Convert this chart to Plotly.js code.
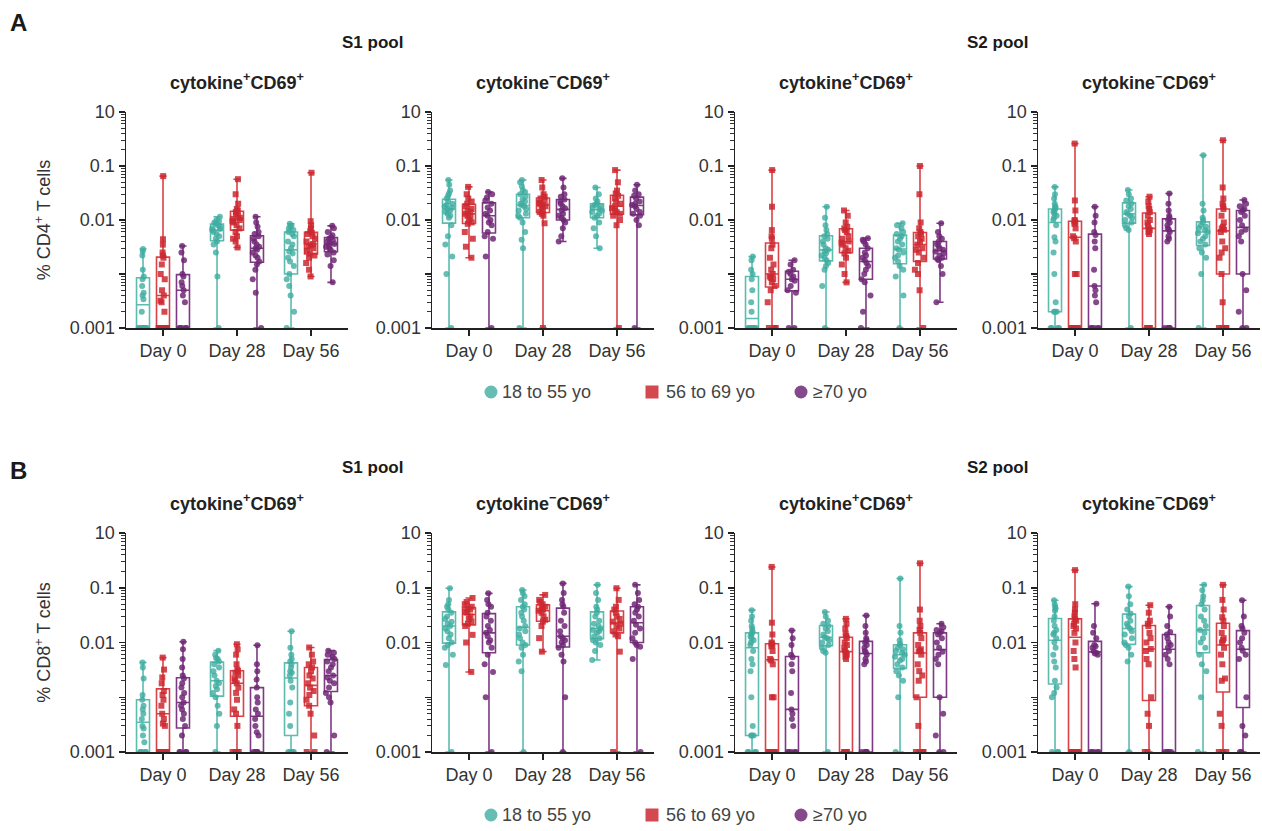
<!DOCTYPE html>
<html>
<head>
<meta charset="utf-8">
<script src="https://cdn.plot.ly/plotly-3.0.1.min.js"></script>
<style>
  html, body { margin: 0; padding: 0; background: #ffffff; }
  #chart { width: 1262px; height: 831px; }
</style>
</head>
<body>
<div id="chart"></div>
<script>
// ---- categories and axis labels ----
const DAYS = ["Day 0", "Day 28", "Day 56"];
const AGE_GROUPS = ["18 to 55 yo", "56 to 69 yo", "\u226570 yo"];
const Y_TICK_VALS = [1e-4, 1e-3, 1e-2, 1e-1, 1];
const Y_TICK_TEXT = ["0.001", "", "0.01", "0.1", "10"];

// ---- % CD4+ T cells, S1 pool, cytokine+CD69+ (Day 0, Day 28, Day 56) ----
const cd4S1Pos_18to55 = [
  [0.0029, 0.0026, 0.0022, 0.0012, 0.0009, 0.0008, 0.0006, 0.00045, 0.0004, 0.00034, 0.0002, 0.0001, 0.0001, 0.0001, 0.0001, 0.0001, 0.0001, 0.0001, 0.0001, 0.0001],
  [0.0115, 0.01, 0.0095, 0.009, 0.0085, 0.008, 0.0075, 0.007, 0.0068, 0.0065, 0.006, 0.0055, 0.005, 0.0045, 0.004, 0.0035, 0.0025, 0.0009, 0.0001],
  [0.0085, 0.008, 0.0075, 0.007, 0.0065, 0.006, 0.0055, 0.005, 0.004, 0.0035, 0.003, 0.0026, 0.0024, 0.002, 0.0017, 0.0014, 0.001, 0.0008, 0.0006, 0.0004, 0.0002, 0.0001]
];
const cd4S1Pos_56to69 = [
  [0.065, 0.0044, 0.0035, 0.0025, 0.0022, 0.002, 0.0015, 0.001, 0.0008, 0.0005, 0.0004, 0.00032, 0.0003, 0.0002, 0.0001, 0.0001, 0.0001, 0.0001, 0.0001, 0.0001, 0.0001],
  [0.057, 0.03, 0.02, 0.016, 0.015, 0.014, 0.013, 0.012, 0.011, 0.0105, 0.01, 0.0095, 0.009, 0.008, 0.007, 0.006, 0.005, 0.0045, 0.004, 0.0031],
  [0.075, 0.0095, 0.008, 0.007, 0.0062, 0.0058, 0.0055, 0.005, 0.0045, 0.004, 0.0036, 0.0034, 0.0032, 0.003, 0.0027, 0.0024, 0.0022, 0.002, 0.0016, 0.0012, 0.0009]
];
const cd4S1Pos_70plus = [
  [0.0033, 0.0025, 0.0018, 0.001, 0.0009, 0.0007, 0.0006, 0.0005, 0.0004, 0.0003, 0.0001, 0.0001, 0.0001, 0.0001, 0.0001],
  [0.0115, 0.009, 0.0075, 0.006, 0.0055, 0.005, 0.0045, 0.004, 0.0035, 0.0032, 0.003, 0.0028, 0.0025, 0.0022, 0.002, 0.0017, 0.0015, 0.0012, 0.0008, 0.00045, 0.0001],
  [0.0078, 0.007, 0.006, 0.0052, 0.0048, 0.0045, 0.0042, 0.004, 0.0038, 0.0036, 0.0034, 0.0032, 0.003, 0.0028, 0.0025, 0.0023, 0.0018, 0.0014, 0.0007]
];

// ---- % CD4+ T cells, S1 pool, cytokine-CD69+ ----
const cd4S1Neg_18to55 = [
  [0.055, 0.045, 0.035, 0.031, 0.028, 0.025, 0.022, 0.02, 0.019, 0.018, 0.017, 0.016, 0.015, 0.014, 0.013, 0.012, 0.011, 0.008, 0.005, 0.0035, 0.0021, 0.001, 0.0001],
  [0.055, 0.05, 0.042, 0.036, 0.033, 0.03, 0.027, 0.024, 0.022, 0.02, 0.019, 0.018, 0.016, 0.015, 0.013, 0.012, 0.011, 0.009, 0.006, 0.0043, 0.003, 0.0001],
  [0.04, 0.03, 0.025, 0.022, 0.02, 0.019, 0.018, 0.017, 0.016, 0.015, 0.014, 0.013, 0.012, 0.011, 0.009, 0.007, 0.005, 0.003]
];
const cd4S1Neg_56to69 = [
  [0.041, 0.03, 0.025, 0.022, 0.02, 0.018, 0.016, 0.015, 0.014, 0.013, 0.012, 0.011, 0.01, 0.009, 0.0085, 0.006, 0.0045, 0.0032, 0.002],
  [0.055, 0.04, 0.03, 0.027, 0.025, 0.023, 0.021, 0.02, 0.019, 0.018, 0.017, 0.015, 0.014, 0.013, 0.012, 0.0087, 0.0001],
  [0.084, 0.05, 0.035, 0.031, 0.028, 0.025, 0.022, 0.02, 0.018, 0.0165, 0.015, 0.014, 0.013, 0.012, 0.01, 0.008, 0.0001]
];
const cd4S1Neg_70plus = [
  [0.033, 0.03, 0.026, 0.023, 0.02, 0.017, 0.015, 0.013, 0.012, 0.01, 0.009, 0.008, 0.006, 0.005, 0.0045, 0.0021, 0.0001],
  [0.059, 0.04, 0.03, 0.027, 0.024, 0.022, 0.02, 0.018, 0.0165, 0.015, 0.013, 0.012, 0.011, 0.01, 0.009, 0.007, 0.005, 0.004],
  [0.045, 0.035, 0.03, 0.028, 0.025, 0.022, 0.02, 0.019, 0.018, 0.016, 0.014, 0.013, 0.012, 0.01, 0.008, 0.0001]
];

// ---- % CD4+ T cells, S2 pool, cytokine+CD69+ ----
const cd4S2Pos_18to55 = [
  [0.0021, 0.0018, 0.0012, 0.001, 0.0008, 0.0005, 0.0003, 0.0002, 0.0001, 0.0001, 0.0001, 0.0001, 0.0001, 0.0001, 0.0001, 0.0001],
  [0.0176, 0.011, 0.008, 0.0065, 0.0055, 0.005, 0.0045, 0.004, 0.0035, 0.003, 0.0028, 0.0026, 0.0024, 0.0022, 0.002, 0.0018, 0.0016, 0.0014, 0.0012, 0.0006, 0.0001],
  [0.0087, 0.008, 0.007, 0.006, 0.0055, 0.005, 0.0045, 0.004, 0.0035, 0.003, 0.0028, 0.0025, 0.0022, 0.002, 0.0017, 0.0014, 0.0012, 0.0009, 0.0004, 0.0001]
];
const cd4S2Pos_56to69 = [
  [0.084, 0.0176, 0.0065, 0.005, 0.0045, 0.0035, 0.003, 0.002, 0.0015, 0.0012, 0.001, 0.0009, 0.00085, 0.0008, 0.0007, 0.0006, 0.0005, 0.0003, 0.0001, 0.0001, 0.0001],
  [0.015, 0.012, 0.009, 0.0075, 0.007, 0.0065, 0.006, 0.005, 0.0045, 0.004, 0.0038, 0.0035, 0.003, 0.0027, 0.0024, 0.002, 0.0015, 0.001, 0.0007],
  [0.1, 0.03, 0.009, 0.007, 0.006, 0.0055, 0.005, 0.0045, 0.004, 0.0035, 0.003, 0.0028, 0.0025, 0.002, 0.0016, 0.0012, 0.001, 0.0005, 0.0001]
];
const cd4S2Pos_70plus = [
  [0.0018, 0.0015, 0.0012, 0.0011, 0.001, 0.0009, 0.0008, 0.00075, 0.0006, 0.0005, 0.00045, 0.0001, 0.0001],
  [0.0046, 0.0043, 0.004, 0.0035, 0.003, 0.0025, 0.0022, 0.002, 0.0018, 0.0016, 0.0014, 0.0012, 0.001, 0.0008, 0.0007, 0.0004, 0.0002, 0.0001],
  [0.0087, 0.006, 0.005, 0.0045, 0.004, 0.0036, 0.0033, 0.003, 0.0028, 0.0026, 0.0024, 0.0022, 0.002, 0.0019, 0.0018, 0.0014, 0.001, 0.0003]
];

// ---- % CD4+ T cells, S2 pool, cytokine-CD69+ ----
const cd4S2Neg_18to55 = [
  [0.041, 0.03, 0.025, 0.02, 0.018, 0.017, 0.016, 0.015, 0.014, 0.013, 0.012, 0.011, 0.01, 0.008, 0.0048, 0.004, 0.0025, 0.001, 0.0003, 0.0002, 0.0002, 0.0002, 0.0001, 0.0001, 0.0001, 0.0001],
  [0.036, 0.03, 0.025, 0.023, 0.02, 0.018, 0.016, 0.014, 0.013, 0.012, 0.011, 0.01, 0.009, 0.008, 0.007, 0.0065, 0.0001],
  [0.158, 0.02, 0.015, 0.011, 0.01, 0.009, 0.008, 0.0075, 0.007, 0.0065, 0.006, 0.0057, 0.005, 0.0045, 0.004, 0.0035, 0.003, 0.0025, 0.002, 0.001, 0.0001]
];
const cd4S2Neg_56to69 = [
  [0.26, 0.023, 0.015, 0.01, 0.0095, 0.009, 0.0085, 0.007, 0.005, 0.0046, 0.004, 0.001, 0.001, 0.0001, 0.0001, 0.0001, 0.0001, 0.0001],
  [0.027, 0.022, 0.018, 0.016, 0.014, 0.012, 0.01, 0.009, 0.008, 0.007, 0.0065, 0.006, 0.0055, 0.0001, 0.0001, 0.0001, 0.0001, 0.0001, 0.0001],
  [0.3, 0.04, 0.025, 0.02, 0.018, 0.016, 0.012, 0.009, 0.0075, 0.007, 0.0066, 0.006, 0.004, 0.003, 0.0025, 0.002, 0.001, 0.0003, 0.0001, 0.0001, 0.0001, 0.0001]
];
const cd4S2Neg_70plus = [
  [0.0176, 0.012, 0.009, 0.006, 0.0053, 0.004, 0.003, 0.0012, 0.0006, 0.0005, 0.0004, 0.0003, 0.0001, 0.0001, 0.0001, 0.0001, 0.0001],
  [0.031, 0.02, 0.015, 0.012, 0.011, 0.01, 0.009, 0.008, 0.007, 0.0066, 0.006, 0.005, 0.0045, 0.004, 0.0001, 0.0001, 0.0001, 0.0001, 0.0001, 0.0001],
  [0.0234, 0.02, 0.018, 0.016, 0.015, 0.014, 0.012, 0.01, 0.008, 0.0066, 0.006, 0.005, 0.004, 0.001, 0.0005, 0.0002, 0.0001, 0.0001]
];

// ---- % CD8+ T cells, S1 pool, cytokine+CD69+ ----
const cd8S1Pos_18to55 = [
  [0.0043, 0.0035, 0.0022, 0.0011, 0.0009, 0.0007, 0.0006, 0.0005, 0.0004, 0.0003, 0.00027, 0.0002, 0.00015, 0.0001, 0.0001, 0.0001, 0.0001, 0.0001],
  [0.0071, 0.006, 0.0052, 0.005, 0.0045, 0.004, 0.0035, 0.003, 0.0025, 0.002, 0.0018, 0.0016, 0.0014, 0.0012, 0.001, 0.0007, 0.0005, 0.0003, 0.0001],
  [0.016, 0.008, 0.006, 0.005, 0.0045, 0.004, 0.0035, 0.003, 0.0028, 0.0025, 0.002, 0.0015, 0.0008, 0.0005, 0.0003, 0.0001, 0.0001, 0.0001, 0.0001, 0.0001]
];
const cd8S1Pos_56to69 = [
  [0.0053, 0.0032, 0.0023, 0.0018, 0.0013, 0.0011, 0.0009, 0.0007, 0.0005, 0.0004, 0.00033, 0.0003, 0.0001, 0.0001, 0.0001, 0.0001, 0.0001],
  [0.0093, 0.0075, 0.006, 0.004, 0.0032, 0.003, 0.0028, 0.0025, 0.0022, 0.002, 0.0018, 0.0015, 0.0012, 0.0009, 0.0006, 0.0005, 0.0003, 0.0001, 0.0001, 0.0001, 0.0001],
  [0.0081, 0.006, 0.0045, 0.004, 0.0035, 0.003, 0.0025, 0.0022, 0.0018, 0.0015, 0.0013, 0.0011, 0.0009, 0.0007, 0.0005, 0.0002, 0.0001, 0.0001]
];
const cd8S1Pos_70plus = [
  [0.0103, 0.0075, 0.005, 0.0035, 0.0025, 0.0022, 0.0018, 0.0015, 0.0012, 0.001, 0.0008, 0.0007, 0.0006, 0.0005, 0.0004, 0.0003, 0.0002, 0.0001, 0.0001, 0.0001, 0.0001],
  [0.0089, 0.004, 0.003, 0.0021, 0.0015, 0.001, 0.0008, 0.0006, 0.0005, 0.0004, 0.0003, 0.00023, 0.0002, 0.0001, 0.0001, 0.0001, 0.0001, 0.0001],
  [0.0071, 0.0065, 0.006, 0.0055, 0.005, 0.0045, 0.004, 0.0035, 0.003, 0.0025, 0.0023, 0.002, 0.0018, 0.0015, 0.0012, 0.001, 0.0008, 0.0002, 0.0001]
];

// ---- % CD8+ T cells, S1 pool, cytokine-CD69+ ----
const cd8S1Neg_18to55 = [
  [0.098, 0.06, 0.05, 0.045, 0.04, 0.035, 0.03, 0.027, 0.024, 0.022, 0.02, 0.018, 0.016, 0.014, 0.012, 0.01, 0.009, 0.008, 0.006, 0.0039, 0.0001],
  [0.091, 0.08, 0.07, 0.06, 0.05, 0.045, 0.04, 0.035, 0.03, 0.025, 0.02, 0.018, 0.016, 0.014, 0.012, 0.01, 0.009, 0.008, 0.006, 0.0045, 0.003, 0.0001],
  [0.113, 0.08, 0.06, 0.045, 0.04, 0.035, 0.03, 0.025, 0.022, 0.02, 0.018, 0.017, 0.016, 0.015, 0.013, 0.012, 0.011, 0.01, 0.009, 0.007, 0.0048]
];
const cd8S1Neg_56to69 = [
  [0.065, 0.055, 0.05, 0.045, 0.042, 0.04, 0.037, 0.035, 0.03, 0.027, 0.024, 0.022, 0.02, 0.0138, 0.01, 0.0029],
  [0.074, 0.06, 0.055, 0.05, 0.045, 0.042, 0.04, 0.038, 0.035, 0.03, 0.026, 0.024, 0.02, 0.012, 0.0068],
  [0.098, 0.06, 0.045, 0.04, 0.035, 0.03, 0.027, 0.024, 0.022, 0.02, 0.018, 0.016, 0.014, 0.013, 0.0068, 0.0001]
];
const cd8S1Neg_70plus = [
  [0.079, 0.06, 0.05, 0.045, 0.035, 0.03, 0.025, 0.02, 0.017, 0.015, 0.013, 0.011, 0.01, 0.008, 0.006, 0.004, 0.0029, 0.001, 0.0001],
  [0.12, 0.08, 0.06, 0.05, 0.045, 0.035, 0.025, 0.02, 0.016, 0.013, 0.012, 0.011, 0.01, 0.009, 0.008, 0.006, 0.0045, 0.001, 0.0001],
  [0.113, 0.08, 0.06, 0.05, 0.045, 0.04, 0.035, 0.03, 0.025, 0.021, 0.018, 0.015, 0.012, 0.01, 0.009, 0.0084, 0.005, 0.0001]
];

// ---- % CD8+ T cells, S2 pool, cytokine+CD69+ ----
const cd8S2Pos_18to55 = [
  [0.039, 0.03, 0.025, 0.02, 0.018, 0.016, 0.015, 0.014, 0.013, 0.012, 0.011, 0.01, 0.009, 0.007, 0.005, 0.004, 0.003, 0.001, 0.0003, 0.0002, 0.0002, 0.0002, 0.0001, 0.0001, 0.0001, 0.0001],
  [0.036, 0.03, 0.025, 0.022, 0.02, 0.018, 0.016, 0.014, 0.0125, 0.012, 0.011, 0.01, 0.009, 0.008, 0.007, 0.0065, 0.0001],
  [0.148, 0.02, 0.015, 0.011, 0.0095, 0.009, 0.008, 0.0075, 0.007, 0.0065, 0.006, 0.0055, 0.005, 0.0047, 0.004, 0.0035, 0.003, 0.0025, 0.002, 0.001, 0.0001]
];
const cd8S2Pos_56to69 = [
  [0.24, 0.023, 0.014, 0.01, 0.0095, 0.009, 0.0085, 0.007, 0.005, 0.0047, 0.004, 0.001, 0.001, 0.0001, 0.0001, 0.0001, 0.0001, 0.0001],
  [0.027, 0.022, 0.018, 0.0145, 0.013, 0.012, 0.01, 0.009, 0.008, 0.0071, 0.0065, 0.006, 0.0055, 0.005, 0.0001, 0.0001, 0.0001, 0.0001, 0.0001, 0.0001],
  [0.28, 0.04, 0.025, 0.02, 0.017, 0.015, 0.012, 0.009, 0.0075, 0.007, 0.0069, 0.006, 0.004, 0.003, 0.0025, 0.002, 0.001, 0.0003, 0.0001, 0.0001, 0.0001, 0.0001]
];
const cd8S2Pos_70plus = [
  [0.0166, 0.012, 0.009, 0.006, 0.0054, 0.004, 0.003, 0.0012, 0.0006, 0.0005, 0.0004, 0.0003, 0.0001, 0.0001, 0.0001, 0.0001, 0.0001],
  [0.031, 0.02, 0.015, 0.012, 0.011, 0.01, 0.009, 0.008, 0.007, 0.0066, 0.006, 0.005, 0.0045, 0.004, 0.0001, 0.0001, 0.0001, 0.0001, 0.0001, 0.0001],
  [0.022, 0.019, 0.017, 0.016, 0.015, 0.014, 0.012, 0.01, 0.008, 0.0068, 0.006, 0.005, 0.004, 0.001, 0.0005, 0.0002, 0.0001, 0.0001]
];

// ---- % CD8+ T cells, S2 pool, cytokine-CD69+ ----
const cd8S2Neg_18to55 = [
  [0.059, 0.05, 0.045, 0.042, 0.038, 0.03, 0.025, 0.02, 0.017, 0.015, 0.014, 0.012, 0.01, 0.008, 0.006, 0.0045, 0.0035, 0.002, 0.0015, 0.0012, 0.001, 0.0001, 0.0001, 0.0001],
  [0.105, 0.07, 0.05, 0.04, 0.034, 0.03, 0.025, 0.022, 0.02, 0.018, 0.016, 0.014, 0.012, 0.01, 0.009, 0.008, 0.006, 0.0045, 0.0001],
  [0.113, 0.09, 0.07, 0.059, 0.05, 0.04, 0.03, 0.025, 0.02, 0.017, 0.015, 0.012, 0.01, 0.008, 0.006, 0.004, 0.003, 0.001, 0.0001]
];
const cd8S2Neg_56to69 = [
  [0.21, 0.05, 0.04, 0.035, 0.03, 0.027, 0.025, 0.022, 0.02, 0.018, 0.015, 0.01, 0.007, 0.005, 0.0035, 0.0001, 0.0001, 0.0001, 0.0001, 0.0001, 0.0001, 0.0001],
  [0.048, 0.035, 0.025, 0.022, 0.02, 0.015, 0.012, 0.01, 0.0076, 0.007, 0.005, 0.004, 0.001, 0.0005, 0.0003, 0.0001, 0.0001],
  [0.113, 0.06, 0.04, 0.029, 0.025, 0.02, 0.015, 0.012, 0.011, 0.01, 0.008, 0.006, 0.004, 0.0022, 0.002, 0.0005, 0.0003, 0.0001, 0.0001, 0.0001]
];
const cd8S2Neg_70plus = [
  [0.051, 0.02, 0.015, 0.012, 0.009, 0.0085, 0.008, 0.007, 0.0065, 0.0063, 0.006, 0.0001, 0.0001, 0.0001, 0.0001, 0.0001],
  [0.045, 0.03, 0.02, 0.0155, 0.014, 0.012, 0.01, 0.009, 0.0081, 0.007, 0.006, 0.005, 0.004, 0.0001, 0.0001, 0.0001, 0.0001, 0.0001],
  [0.059, 0.03, 0.02, 0.018, 0.015, 0.012, 0.01, 0.008, 0.0071, 0.006, 0.005, 0.001, 0.0003, 0.0002, 0.0001, 0.0001]
];

// ---- styling ----
const FONT = "Liberation Sans, Arial, Helvetica, sans-serif";
const TEXT_COLOR = "#333333";
const GROUP_STYLE = [
  { line: "#5cbcaf", fill: "rgba(63,173,160,0.80)", symbol: "circle" },
  { line: "#d94147", fill: "rgba(205,40,48,0.85)", symbol: "square" },
  { line: "#7d3a82", fill: "rgba(112,40,118,0.85)", symbol: "circle" }
];
const POS_TITLE = "cytokine<sup>+</sup>CD69<sup>+</sup>";
const NEG_TITLE = "cytokine<sup>\u2212</sup>CD69<sup>+</sup>";

// minor tick positions on the log axis: 2..9 within each decade
const MINOR_TICKS = [];
for (let e = -4; e < 0; e++) for (let m = 2; m <= 9; m++) MINOR_TICKS.push(m * Math.pow(10, e));

// pixel frames of the eight panels (x left/right, y top/bottom)
const COLS_PX = [[126, 348], [432, 654], [735, 957], [1038, 1260]];
const ROWS_PX = [[112, 328], [533, 752]];
const W = 1262, H = 831;

const panels = [
  { row: 0, col: 0, title: POS_TITLE, groups: [cd4S1Pos_18to55, cd4S1Pos_56to69, cd4S1Pos_70plus] },
  { row: 0, col: 1, title: NEG_TITLE, groups: [cd4S1Neg_18to55, cd4S1Neg_56to69, cd4S1Neg_70plus] },
  { row: 0, col: 2, title: POS_TITLE, groups: [cd4S2Pos_18to55, cd4S2Pos_56to69, cd4S2Pos_70plus] },
  { row: 0, col: 3, title: NEG_TITLE, groups: [cd4S2Neg_18to55, cd4S2Neg_56to69, cd4S2Neg_70plus] },
  { row: 1, col: 0, title: POS_TITLE, groups: [cd8S1Pos_18to55, cd8S1Pos_56to69, cd8S1Pos_70plus] },
  { row: 1, col: 1, title: NEG_TITLE, groups: [cd8S1Neg_18to55, cd8S1Neg_56to69, cd8S1Neg_70plus] },
  { row: 1, col: 2, title: POS_TITLE, groups: [cd8S2Pos_18to55, cd8S2Pos_56to69, cd8S2Pos_70plus] },
  { row: 1, col: 3, title: NEG_TITLE, groups: [cd8S2Neg_18to55, cd8S2Neg_56to69, cd8S2Neg_70plus] }
];
const ROW_Y_TITLES = ["% CD4<sup>+</sup> T cells", "% CD8<sup>+</sup> T cells"];

const traces = [];
const layout = {
  width: W, height: H,
  margin: { l: 0, r: 0, t: 0, b: 0 },
  paper_bgcolor: "#ffffff", plot_bgcolor: "#ffffff",
  font: { family: FONT, color: TEXT_COLOR, size: 18 },
  boxmode: "group", boxgap: 0.19, boxgroupgap: 0.35,
  showlegend: false,
  annotations: [],
  shapes: []
};

panels.forEach((p, i) => {
  const n = i + 1;
  const xa = "x" + (n === 1 ? "" : n), ya = "y" + (n === 1 ? "" : n);
  const xKey = "xaxis" + (n === 1 ? "" : n), yKey = "yaxis" + (n === 1 ? "" : n);
  const [x0, x1] = COLS_PX[p.col];
  const [yt, yb] = ROWS_PX[p.row];

  layout[xKey] = {
    domain: [x0 / W, x1 / W], anchor: ya,
    type: "category", categoryorder: "array", categoryarray: DAYS,
    range: [-0.5, 2.5], fixedrange: true,
    showline: true, linecolor: "#222", linewidth: 1.5,
    ticks: "outside", ticklen: 6, tickwidth: 1.5, tickcolor: "#222",
    showgrid: false, zeroline: false,
    tickfont: { family: FONT, size: 18, color: TEXT_COLOR }
  };
  layout[yKey] = {
    domain: [1 - yb / H, 1 - yt / H], anchor: xa,
    type: "log", range: [-4, 0], fixedrange: true,
    tickmode: "array", tickvals: Y_TICK_VALS, ticktext: Y_TICK_TEXT,
    showline: true, linecolor: "#222", linewidth: 1.5,
    ticks: "outside", ticklen: 6, tickwidth: 1.5, tickcolor: "#222",
    minor: { ticks: "outside", ticklen: 3.5, tickwidth: 1, tickcolor: "#333", tickmode: "array", tickvals: MINOR_TICKS, showgrid: false },
    showgrid: false, zeroline: false,
    tickfont: { family: FONT, size: 18, color: TEXT_COLOR }
  };
  if (p.col === 0) {
    layout[yKey].title = { text: ROW_Y_TITLES[p.row], font: { family: FONT, size: 18, color: TEXT_COLOR }, standoff: 14 };
  }

  p.groups.forEach((byDay, g) => {
    const xs = [], ys = [];
    byDay.forEach((vals, d) => vals.forEach(v => { xs.push(DAYS[d]); ys.push(v); }));
    const st = GROUP_STYLE[g];
    // box with whiskers spanning min to max
    traces.push({
      type: "box", x: xs, y: ys, xaxis: xa, yaxis: ya,
      name: AGE_GROUPS[g], offsetgroup: String(g), alignmentgroup: "a" + n,
      boxpoints: false, whiskerwidth: 0.55,
      line: { color: st.line, width: 1.6 }, fillcolor: "rgba(255,255,255,0)",
      showlegend: false, hoverinfo: "skip"
    });
    // individual values jittered over the box
    traces.push({
      type: "box", x: xs, y: ys, xaxis: xa, yaxis: ya,
      name: AGE_GROUPS[g], offsetgroup: String(g), alignmentgroup: "a" + n,
      boxpoints: "all", jitter: 0.8, pointpos: 0,
      marker: { color: st.fill, symbol: st.symbol, size: 6, line: { width: 0 } },
      line: { color: "rgba(0,0,0,0)", width: 0 }, fillcolor: "rgba(0,0,0,0)",
      whiskerwidth: 0, showlegend: false, hoveron: "points"
    });
  });

  layout.annotations.push({
    text: "<b>" + p.title + "</b>", xref: xa + " domain", yref: ya + " domain",
    x: 0.5, y: 1, xanchor: "center", yanchor: "bottom", yshift: 17, showarrow: false,
    font: { family: FONT, size: 18, color: "#222" }
  });
});

// key to the age groups, below each row of panels
const KEY_SWATCH_X = [491, 652, 801];
const KEY_TEXT_X = [500, 664, 811];
const KEY_ROW_Y = [392, 815];
KEY_ROW_Y.forEach(cy => {
  AGE_GROUPS.forEach((name, g) => {
    const cx = KEY_SWATCH_X[g], r = 6.5;
    layout.shapes.push({
      type: GROUP_STYLE[g].symbol === "square" ? "rect" : "circle",
      xref: "paper", yref: "paper",
      x0: (cx - r) / W, x1: (cx + r) / W, y0: 1 - (cy + r) / H, y1: 1 - (cy - r) / H,
      fillcolor: GROUP_STYLE[g].fill, line: { width: 0 }
    });
    layout.annotations.push({
      text: name, xref: "paper", yref: "paper",
      x: KEY_TEXT_X[g] / W, y: 1 - cy / H, xanchor: "left", yanchor: "middle", showarrow: false,
      font: { family: FONT, size: 18, color: "#444" }
    });
  });
});

// section letters and stimulus pool headers
const headers = [
  { t: "A", x: 18, y: 22, size: 24 },
  { t: "B", x: 18, y: 470, size: 24 },
  { t: "S1 pool", x: 372, y: 42, size: 17 },
  { t: "S2 pool", x: 997, y: 42, size: 17 },
  { t: "S1 pool", x: 372, y: 467, size: 17 },
  { t: "S2 pool", x: 997, y: 467, size: 17 }
];
headers.forEach(h => layout.annotations.push({
  text: "<b>" + h.t + "</b>", xref: "paper", yref: "paper",
  x: h.x / W, y: 1 - h.y / H, xanchor: "center", yanchor: "middle", showarrow: false,
  font: { family: FONT, size: h.size, color: "#1a1a1a" }
}));

Plotly.newPlot("chart", traces, layout, { staticPlot: true, displayModeBar: false });
</script>
</body>
</html>
